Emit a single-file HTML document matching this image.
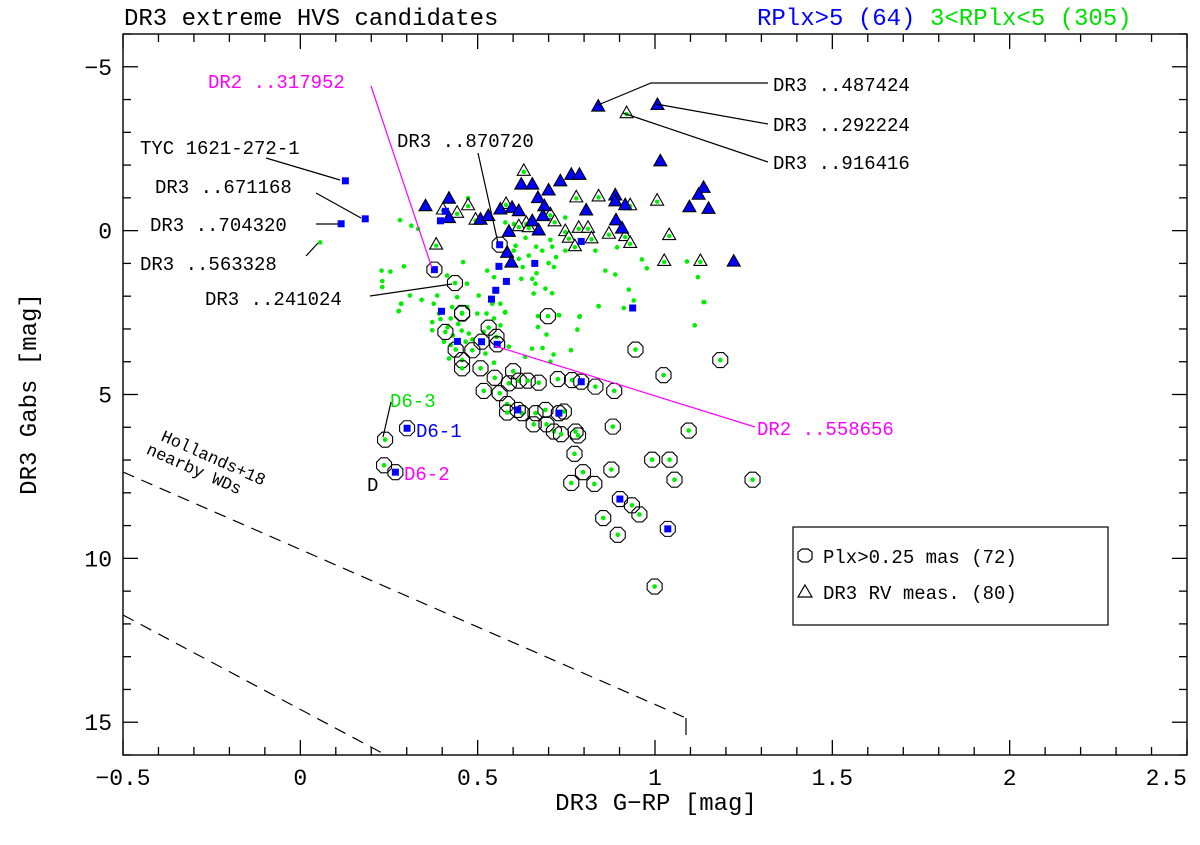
<!DOCTYPE html>
<html><head><meta charset="utf-8"><style>
html,body{margin:0;padding:0;background:#fff;}
svg{display:block;}
text{font-family:"Liberation Mono",monospace;}
</style></head><body>
<svg id="chart" width="1200" height="845" viewBox="0 0 1200 845" xmlns="http://www.w3.org/2000/svg">
<rect width="1200" height="845" fill="#fff"/>
<g id="marks"></g>
<g id="axes"></g>
<g id="annot">
  <text x="124" y="25" font-size="24">DR3 extreme HVS candidates</text>
  <text x="757" y="25" font-size="24" fill="#0000ff">RPlx&gt;5 (64)</text>
  <text x="930" y="25" font-size="24" fill="#00e000">3&lt;RPlx&lt;5 (305)</text>
  <text x="656" y="810" font-size="24" text-anchor="middle">DR3 G−RP [mag]</text>
  <text x="0" y="0" font-size="24" text-anchor="middle" transform="translate(36,394) rotate(-90)">DR3 Gabs [mag]</text>

  <g><text x="140" y="154" font-size="19">TYC 1621-272-1</text><line x1="266" y1="158" x2="340" y2="180" stroke="#000" stroke-width="1.2"/></g>
  <g><text x="155" y="193" font-size="19">DR3 ..671168</text><line x1="316" y1="193" x2="361" y2="218" stroke="#000" stroke-width="1.2"/></g>
  <g><text x="150" y="231" font-size="19">DR3 ..704320</text><line x1="316" y1="224" x2="338" y2="224" stroke="#000" stroke-width="1.2"/></g>
  <g><text x="140" y="270" font-size="19">DR3 ..563328</text><line x1="306" y1="256" x2="318" y2="243" stroke="#000" stroke-width="1.2"/></g>
  <g><text x="205" y="305" font-size="19">DR3 ..241024</text><line x1="370" y1="296" x2="452" y2="284" stroke="#000" stroke-width="1.2"/></g>
  <g><text x="208" y="88" font-size="19" fill="#ff00ff">DR2 ..317952</text><line x1="371" y1="86" x2="432" y2="268" stroke="#ff00ff" stroke-width="1.2"/></g>
  <g><text x="397" y="147" font-size="19">DR3 ..870720</text><line x1="478" y1="153" x2="498" y2="243" stroke="#000" stroke-width="1.2"/></g>
  <g><text x="773" y="91" font-size="19">DR3 ..487424</text><polyline points="768,83 651,83 598,105" fill="none" stroke="#000" stroke-width="1.2"/></g>
  <g><text x="773" y="131" font-size="19">DR3 ..292224</text><line x1="768" y1="124" x2="656" y2="104" stroke="#000" stroke-width="1.2"/></g>
  <g><text x="773" y="169" font-size="19">DR3 ..916416</text><line x1="768" y1="162" x2="623" y2="113" stroke="#000" stroke-width="1.2"/></g>
  <g><text x="757" y="435" font-size="19" fill="#ff00ff">DR2 ..558656</text><line x1="755" y1="427" x2="495" y2="346" stroke="#ff00ff" stroke-width="1.2"/></g>
  <g><text x="390" y="407" font-size="19" fill="#00e000">D6-3</text><line x1="391" y1="402" x2="383" y2="437" stroke="#000" stroke-width="1.2"/></g>
  <text x="416" y="437" font-size="19" fill="#0000ff">D6-1</text>
  <text x="404" y="480" font-size="19" fill="#ff00ff">D6-2</text>
  <text x="367" y="491" font-size="19">D</text>
  <g transform="translate(160,440) rotate(24)">
    <text x="0" y="0" font-size="17">Hollands+18</text>
    <text x="-8" y="18" font-size="17">nearby WDs</text>
  </g>
  <g stroke="#000" stroke-width="1.2" stroke-dasharray="12,8" fill="none">
    <polyline points="123,472 686,718"/>
    <line x1="686" y1="718" x2="686" y2="735" stroke-dasharray="none"/>
    <line x1="123" y1="615" x2="384" y2="754"/>
  </g>
  <g>
    <rect x="793" y="527" width="315" height="98" fill="none" stroke="#000" stroke-width="1.2"/>
    <polygon points="808,549 812,552 812,559 808,562 802,562 798,559 798,552 802,549" fill="none" stroke="#000" stroke-width="1.2"/>
    <text x="823" y="563" font-size="19">Plx&gt;0.25 mas (72)</text>
    <polygon points="805,585 812,597 798,597" fill="none" stroke="#000" stroke-width="1.2"/>
    <text x="823" y="599" font-size="19">DR3 RV meas. (80)</text>
  </g>
</g>
</svg>
<script>
// Axis domains
const xDomain = [-0.5, 2.5];
const yDomain = [-6, 16];
const xTicks = [-0.5, 0, 0.5, 1, 1.5, 2, 2.5];
const xTickLabels = ["−0.5", "0", "0.5", "1", "1.5", "2", "2.5"];
const yTicks = [-5, 0, 5, 10, 15];
const yTickLabels = ["−5", "0", "5", "10", "15"];

// Plx>0.25 circles (G-RP, Gabs), green dot inside
const circX = [0.456,0.698,0.409,0.531,0.553,0.438,0.485,0.456,0.456,0.508,0.548,0.600,0.588,0.616,0.641,0.672,0.726,0.766,0.832,0.885,0.945,1.024,1.184,0.517,0.562,0.583,0.583,0.625,0.663,0.691,0.743,0.658,0.694,0.715,0.735,0.776,0.783,0.773,0.797,0.764,0.829,0.877,0.881,1.095,0.992,1.041,1.055,1.275,0.935,0.956,0.854,0.895,0.999,0.239,0.236,0.436,0.456];
const circY = [2.53,2.61,3.09,2.96,3.24,3.63,3.65,3.95,4.20,4.20,4.49,4.29,4.66,4.58,4.58,4.64,4.53,4.56,4.76,4.89,3.63,4.41,3.95,4.89,4.96,5.29,5.55,5.57,5.57,5.47,5.52,5.91,5.91,6.13,6.21,6.13,6.25,6.81,7.37,7.70,7.73,7.29,5.98,6.10,6.99,6.99,7.60,7.60,8.38,8.66,8.77,9.28,10.86,6.38,7.16,1.60,2.51];
// Plx>0.25 circles containing blue squares
const circSqX = [0.301,0.268,0.901,1.036,0.792,0.729,0.613,0.555,0.511,0.378,0.562];
const circSqY = [6.03,7.37,8.19,9.10,4.61,5.57,5.47,3.47,3.39,1.19,0.43];
// RV triangles with blue fill
const triBlueX = [0.84,1.007,1.015,0.623,0.654,0.700,0.733,0.764,0.787,0.670,0.688,0.888,0.888,0.916,1.137,1.123,1.097,1.151,0.806,0.419,0.353,0.419,0.508,0.530,0.564,0.597,0.616,0.654,0.672,0.684,0.588,0.583,0.595,0.890,0.907,1.222];
const triBlueY = [-3.80,-3.85,-2.13,-1.42,-1.42,-1.24,-1.52,-1.72,-1.72,-1.01,-0.76,-1.09,-0.91,-0.79,-1.32,-1.11,-0.73,-0.68,-0.63,-0.99,-0.76,-0.40,-0.35,-0.46,-0.66,-0.71,-0.61,-0.30,-0.02,-0.46,0.02,0.66,0.96,-0.33,-0.08,0.93];
// RV triangles with green dot
const triGreenX = [0.92,0.630,0.778,0.841,0.930,1.006,0.402,0.473,0.442,0.494,0.580,0.637,0.705,0.717,0.616,0.644,0.747,0.785,0.811,0.757,0.821,0.774,0.870,0.916,0.930,1.040,1.026,1.128,0.383];
const triGreenY = [-3.60,-1.84,-1.03,-1.06,-0.79,-0.93,-0.66,-0.79,-0.56,-0.35,-0.83,-0.25,-0.51,-0.30,-0.15,-0.12,0.00,-0.10,-0.10,0.20,0.22,0.46,0.08,0.15,0.36,0.12,0.91,0.91,0.41];
// Blue squares (RPlx>5)
const sqX = [0.127,0.183,0.115,0.409,0.395,0.560,0.661,0.581,0.551,0.539,0.792,0.937,0.398,0.443];
const sqY = [-1.52,-0.36,-0.21,-0.59,-0.30,1.09,1.00,1.55,1.82,2.09,0.33,2.36,2.46,3.38];
// Green dots (3<RPlx<5)
const dotX = [0.056,0.281,0.313,0.332,0.229,0.254,0.292,0.231,0.231,0.285,0.278,0.309,0.342,0.459,0.470,0.442,0.386,0.414,0.503,0.527,0.546,0.541,0.564,0.577,0.525,0.607,0.602,0.616,0.635,0.644,0.665,0.682,0.705,0.710,0.721,0.700,0.715,0.666,0.654,0.627,0.623,0.663,0.691,0.710,0.658,0.747,0.832,0.893,0.860,0.888,0.926,0.940,0.841,0.912,0.963,0.977,1.090,1.121,1.139,1.112,0.787,0.730,0.670,0.747,0.746,0.578,0.602,0.473,0.376,0.391,0.428,0.424,0.372,0.372,0.405,0.424,0.475,0.466,0.499,0.471,0.578,0.546,0.564,0.588,0.522,0.546,0.653,0.683,0.670,0.694,0.728,0.788,0.781,0.763,0.714,0.705,0.634,0.841,1.137,0.277,0.284,0.419,0.485,0.517,0.445,0.415,0.395,0.455,0.430];
const dotY = [0.36,-0.32,-0.15,-0.05,1.22,1.25,1.09,1.54,1.72,2.23,2.45,1.98,2.11,0.96,1.62,2.03,1.98,1.37,1.98,1.22,1.42,2.23,2.23,2.50,2.53,0.46,0.61,0.86,0.22,0.76,0.49,0.61,0.28,0.49,0.81,0.99,1.11,1.30,1.47,1.11,1.47,1.62,1.77,1.91,1.92,0.61,0.61,0.51,1.22,1.34,1.80,2.13,2.30,2.36,0.88,1.15,0.94,1.42,2.18,2.89,2.63,2.58,2.61,-0.40,0.10,-0.25,-0.20,-0.99,2.23,2.53,2.33,2.68,2.79,3.04,3.39,3.49,3.14,3.39,2.53,2.33,2.48,2.68,2.89,3.54,3.75,4.03,3.60,3.58,2.94,3.17,2.58,2.61,3.02,3.65,3.78,4.00,3.85,2.31,2.18,2.46,2.23,3.90,3.32,3.09,2.85,2.95,2.70,3.05,3.20];

const L=123, R=1187, T=34, B=755;
function sx(v){ return L + (v - xDomain[0]) / (xDomain[1]-xDomain[0]) * (R-L); }
function sy(v){ return T + (v - yDomain[0]) / (yDomain[1]-yDomain[0]) * (B-T); }
const NS='http://www.w3.org/2000/svg';
function mk(tag, attrs, parent){ const e=document.createElementNS(NS,tag); for(const k in attrs) e.setAttribute(k,attrs[k]); parent.appendChild(e); return e; }
const marks=document.getElementById('marks');
const axes=document.getElementById('axes');
const GREEN='#00ee00', BLUE='#0000ff';

function octo(cx,cy,r){ const a=r*0.41; return [[cx-a,cy-r],[cx+a,cy-r],[cx+r,cy-a],[cx+r,cy+a],[cx+a,cy+r],[cx-a,cy+r],[cx-r,cy+a],[cx-r,cy-a]].map(p=>p.join(',')).join(' '); }
function tri(cx,cy){ return `${cx},${cy-6.5} ${cx+6.5},${cy+5} ${cx-6.5},${cy+5}`; }

dotX.forEach((x,i)=>{
  const c=mk('circle',{cx:sx(x),cy:sy(dotY[i]),r:2.3,fill:GREEN},marks);
  
  
});
circX.forEach((x,i)=>{
  const g=mk('g',{},marks);
  
  
  mk('polygon',{points:octo(sx(x),sy(circY[i]),7.5),fill:'none',stroke:'#000','stroke-width':1.1},g);
  mk('circle',{cx:sx(x),cy:sy(circY[i]),r:2.3,fill:GREEN},g);
});
triGreenX.forEach((x,i)=>{
  const g=mk('g',{},marks);
  
  
  mk('polygon',{points:tri(sx(x),sy(triGreenY[i])),fill:'#fff',stroke:'#000','stroke-width':1.1},g);
  mk('circle',{cx:sx(x),cy:sy(triGreenY[i])+1.5,r:2.2,fill:GREEN},g);
});
triBlueX.forEach((x,i)=>{
  const g=mk('g',{},marks);
  
  
  mk('polygon',{points:tri(sx(x),sy(triBlueY[i])),fill:BLUE,stroke:'#000','stroke-width':1.1},g);
});
sqX.forEach((x,i)=>{
  const r=mk('rect',{x:sx(x)-3.5,y:sy(sqY[i])-3.5,width:7,height:7,fill:BLUE},marks);
  
  
});
circSqX.forEach((x,i)=>{
  const g=mk('g',{},marks);
  
  
  mk('polygon',{points:octo(sx(x),sy(circSqY[i]),7.5),fill:'none',stroke:'#000','stroke-width':1.1},g);
  mk('rect',{x:sx(x)-3.5,y:sy(circSqY[i])-3.5,width:7,height:7,fill:BLUE},g);
});

// Axes frame and ticks
const fr=mk('rect',{x:L,y:T,width:R-L,height:B-T,fill:'none',stroke:'#000','stroke-width':1.4},axes);


for(let k=-5;k<=25;k++){
  const v=k/10, X=sx(v), major=(k%5===0);
  const len=major?15:8;
  mk('line',{x1:X,y1:B,x2:X,y2:B-len,stroke:'#000','stroke-width':1.3},axes);
  mk('line',{x1:X,y1:T,x2:X,y2:T+len,stroke:'#000','stroke-width':1.3},axes);
}
for(let k=-6;k<=16;k++){
  const Y=sy(k), major=(k%5===0);
  const len=major?15:8;
  mk('line',{x1:L,y1:Y,x2:L+len,y2:Y,stroke:'#000','stroke-width':1.3},axes);
  mk('line',{x1:R,y1:Y,x2:R-len,y2:Y,stroke:'#000','stroke-width':1.3},axes);
}
xTicks.forEach((v,i)=>{
  const last = (i===xTicks.length-1);
  const t=mk('text',{x:last?R:sx(v),y:785,'font-size':23,'text-anchor':last?'end':'middle'},axes);
  t.textContent=xTickLabels[i];
  
  
});
yTicks.forEach((v,i)=>{
  const t=mk('text',{x:112,y:sy(v)+8,'font-size':23,'text-anchor':'end'},axes);
  t.textContent=yTickLabels[i];
  
  
});
</script>
</body></html>
